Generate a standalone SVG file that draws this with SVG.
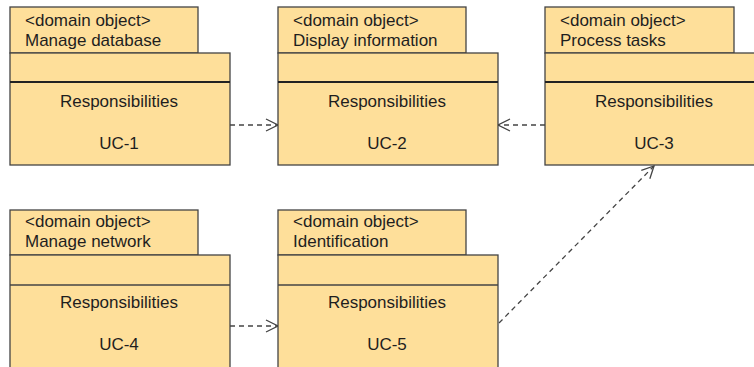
<svg xmlns="http://www.w3.org/2000/svg" width="754" height="367" viewBox="0 0 754 367">
<style>
.box{fill:#FEDF9A;stroke:#444;stroke-width:1.3}
.sep{stroke:#222;stroke-width:2}
.sep1{stroke:#444;stroke-width:1.3}
.t{font-family:"Liberation Sans",Arial,sans-serif;font-size:17px;fill:#1e1e1e}
.c{text-anchor:middle}
.dep{fill:none;stroke:#444;stroke-width:1.3;stroke-dasharray:5,4}
</style>
<defs>
<marker id="open" viewBox="0 0 14 14" refX="13" refY="7" markerWidth="14" markerHeight="14" markerUnits="userSpaceOnUse" orient="auto">
<path d="M1,1 L13,7 L1,13" fill="none" stroke="#444" stroke-width="1.3"/>
</marker>
</defs>
<rect width="754" height="367" fill="#fff"/>
<g id="connectors">
<line class="dep" x1="230" y1="125" x2="278" y2="125" marker-end="url(#open)"/>
<line class="dep" x1="545" y1="125" x2="498" y2="125" marker-end="url(#open)"/>
<line class="dep" x1="230" y1="326" x2="278" y2="326" marker-end="url(#open)"/>
<line class="dep" x1="499" y1="323" x2="654" y2="166" marker-end="url(#open)"/>
</g>
<g id="n1">
<rect class="box" x="10" y="7" width="188" height="46"/>
<rect class="box" x="10" y="53" width="220" height="112"/>
<line class="sep" x1="10" y1="82" x2="230" y2="82"/>
<text class="t" x="25" y="26">&lt;domain object&gt;</text>
<text class="t" x="25" y="46">Manage database</text>
<text class="t c" x="119" y="107">Responsibilities</text>
<text class="t c" x="119" y="149">UC-1</text>
</g>
<g id="n2">
<rect class="box" x="278" y="7" width="188" height="46"/>
<rect class="box" x="278" y="53" width="220" height="112"/>
<line class="sep" x1="278" y1="82" x2="498" y2="82"/>
<text class="t" x="293" y="26">&lt;domain object&gt;</text>
<text class="t" x="293" y="46">Display information</text>
<text class="t c" x="387" y="107">Responsibilities</text>
<text class="t c" x="387" y="149">UC-2</text>
</g>
<g id="n3">
<rect class="box" x="545" y="7" width="189" height="46"/>
<rect class="box" x="545" y="53" width="220" height="112"/>
<line class="sep" x1="545" y1="82" x2="765" y2="82"/>
<text class="t" x="560" y="26">&lt;domain object&gt;</text>
<text class="t" x="560" y="46">Process tasks</text>
<text class="t c" x="654" y="107">Responsibilities</text>
<text class="t c" x="654" y="149">UC-3</text>
</g>
<g id="n4">
<rect class="box" x="10" y="210" width="188" height="45"/>
<rect class="box" x="10" y="255" width="220" height="120"/>
<line class="sep1" x1="10" y1="285" x2="230" y2="285"/>
<text class="t" x="25" y="227">&lt;domain object&gt;</text>
<text class="t" x="25" y="247">Manage network</text>
<text class="t c" x="119" y="308">Responsibilities</text>
<text class="t c" x="119" y="350">UC-4</text>
</g>
<g id="n5">
<rect class="box" x="278" y="210" width="188" height="45"/>
<rect class="box" x="278" y="255" width="220" height="120"/>
<line class="sep1" x1="278" y1="285" x2="498" y2="285"/>
<text class="t" x="293" y="227">&lt;domain object&gt;</text>
<text class="t" x="293" y="247">Identification</text>
<text class="t c" x="387" y="308">Responsibilities</text>
<text class="t c" x="387" y="350">UC-5</text>
</g>
</svg>
